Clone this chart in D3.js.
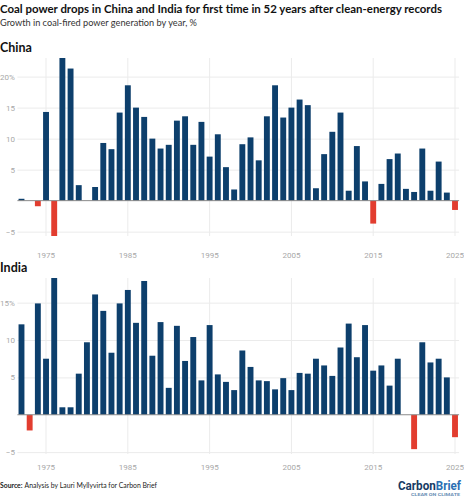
<!DOCTYPE html>
<html>
<head>
<meta charset="utf-8">
<script src="https://cdn.jsdelivr.net/npm/d3@7"></script>
<style>
  html, body { margin: 0; padding: 0; background: #fff; }
  svg { display: block; }
</style>
</head>
<body>
<svg id="chart" width="464" height="500"></svg>
<script>
// ---- data ----
const years = d3.range(1972, 2026);
const chinaValues = [
  0.3, 0, -0.9, 14.3, -5.7, 23.0, 21.3, 2.5, 0, 2.2,
  9.3, 8.3, 14.2, 18.6, 15.0, 13.5, 10.0, 8.4, 9.0, 12.9,
  13.6, 9.0, 12.7, 7.1, 10.7, 5.4, 1.8, 9.1, 10.2, 6.5,
  13.6, 18.6, 13.4, 15.0, 16.3, 15.4, 2.0, 7.5, 11.1, 14.2,
  1.6, 8.8, 3.1, -3.7, 2.7, 6.7, 7.6, 1.9, 1.4, 8.4,
  1.6, 6.3, 1.3, -1.5
];
const indiaValues = [
  12.1, -2.1, 14.9, 7.5, 18.3, 1.0, 1.0, 5.5, 9.7, 16.1,
  13.9, 8.3, 14.9, 16.7, 12.3, 17.9, 7.9, 12.4, 3.6, 11.9,
  7.2, 10.4, 4.6, 12.0, 5.4, 4.4, 3.3, 8.6, 6.4, 4.6,
  4.5, 3.4, 4.9, 3.3, 5.6, 5.5, 7.5, 6.6, 5.2, 9.0,
  12.2, 7.7, 12.0, 5.9, 6.6, 3.9, 7.5, 0, -4.6, 9.7,
  7.0, 7.5, 5.0, -3.0
];
const xTickYears = [1975, 1985, 1995, 2005, 2015, 2025];
const chinaYTicks = [-5, 5, 10, 15, 20];
const indiaYTicks = [-5, 5, 10, 15];
const chinaYDomain = [-5.7, 23.0];
const indiaYDomain = [-5.25, 18.3];

// ---- styles ----
const BLUE = "#0d3f6c";
const RED = "#e23d2f";
const GRID = "#ebebeb";
const ZERO = "#8a8a8a";
const TICK = "#a8a8a8";
const SANS = "Lato, 'Open Sans', sans-serif";

const svg = d3.select("#chart");

// headline
svg.append("text").attr("x", 0).attr("y", 13)
  .attr("font-family", SANS).attr("font-weight", 700)
  .attr("font-size", 10.5).attr("fill", "#111")
  .attr("textLength", 442).attr("lengthAdjust", "spacingAndGlyphs")
  .text("Coal power drops in China and India for first time in 52 years after clean-energy records");
svg.append("text").attr("x", 0).attr("y", 26)
  .attr("font-family", SANS)
  .attr("font-size", 8.8).attr("fill", "#333")
  .attr("textLength", 197).attr("lengthAdjust", "spacingAndGlyphs")
  .text("Growth in coal-fired power generation by year, %");

const x = d3.scaleBand()
  .domain(years)
  .range([17.4, 459.1])
  .paddingInner(0.28)
  .paddingOuter(0.14);

function panel(name, titleY, values, yDomain, yTicks, top, bottom, labelY) {
  const g = svg.append("g");
  const y = d3.scaleLinear().domain(yDomain).range([bottom, top]);

  g.append("text").attr("x", 0).attr("y", titleY)
    .attr("font-family", SANS).attr("font-weight", 700)
    .attr("font-size", 12.5).attr("fill", "#111")
    .text(name);

  // horizontal gridlines + y labels
  const yAxis = d3.axisLeft(y).tickValues(yTicks)
    .tickSize(-(459.1 - 17.4))
    .tickFormat(d => d === d3.max(yTicks) ? d + "%" : (d < 0 ? "\u2212" + Math.abs(d) : d));
  const ya = g.append("g").attr("transform", "translate(17.4,0)").call(yAxis);
  ya.select(".domain").remove();
  ya.selectAll(".tick line").attr("stroke", GRID).attr("stroke-width", 1);
  ya.selectAll(".tick text").attr("x", -2.5)
    .attr("font-family", "Roboto, sans-serif").attr("font-size", 8).attr("fill", TICK);

  // vertical gridlines + x labels
  const xAxis = d3.axisBottom(x).tickValues(xTickYears).tickSize(-(bottom - top)).tickSizeOuter(0);
  const xa = g.append("g").attr("transform", `translate(0,${bottom})`).call(xAxis);
  xa.select(".domain").remove();
  xa.selectAll(".tick line").attr("stroke", GRID).attr("stroke-width", 1);
  xa.selectAll(".tick text").attr("y", labelY - bottom).attr("dy", 0)
    .attr("font-family", "Roboto, sans-serif").attr("font-size", 8).attr("fill", TICK);

  // bars
  g.append("g").selectAll("rect")
    .data(years.map((yr, i) => ({ yr, v: values[i] })).filter(d => d.v !== 0))
    .join("rect")
    .attr("x", d => x(d.yr))
    .attr("width", x.bandwidth())
    .attr("y", d => y(Math.max(0, d.v)))
    .attr("height", d => Math.abs(y(d.v) - y(0)))
    .attr("fill", d => d.v < 0 ? RED : BLUE);

  // zero line
  g.append("line")
    .attr("x1", 17.4).attr("x2", 459.1)
    .attr("y1", y(0)).attr("y2", y(0))
    .attr("stroke", ZERO).attr("stroke-width", 1);
}

panel("China", 51.5, chinaValues, chinaYDomain, chinaYTicks, 58, 236, 258);
panel("India", 272, indiaValues, indiaYDomain, indiaYTicks, 278, 454, 470);

// source
svg.append("text").attr("x", 0).attr("y", 487.5)
  .attr("font-family", SANS).attr("font-weight", 700)
  .attr("font-size", 8).attr("fill", "#222")
  .attr("textLength", 22.5).attr("lengthAdjust", "spacingAndGlyphs")
  .text("Source:");
svg.append("text").attr("x", 24.5).attr("y", 487.5)
  .attr("font-family", SANS)
  .attr("font-size", 8).attr("fill", "#222")
  .attr("textLength", 132.5).attr("lengthAdjust", "spacingAndGlyphs")
  .text("Analysis by Lauri Myllyvirta for Carbon Brief");

// logo
const logo = svg.append("text").attr("x", 398).attr("y", 489.5)
  .attr("font-family", "'Liberation Sans Narrow', 'Roboto', sans-serif").attr("font-weight", 700)
  .attr("font-size", 12.5)
  .attr("textLength", 63).attr("lengthAdjust", "spacingAndGlyphs");
logo.append("tspan").attr("fill", "#163a64").text("Carbon");
logo.append("tspan").attr("fill", "#2b6fb3").text("Brief");
svg.append("text").attr("x", 411).attr("y", 495.5)
  .attr("font-family", "Roboto, sans-serif").attr("font-weight", 700)
  .attr("font-size", 3).attr("fill", "#6a8fb5")
  .attr("textLength", 49).attr("lengthAdjust", "spacingAndGlyphs")
  .text("CLEAR ON CLIMATE");
</script>
</body>
</html>
